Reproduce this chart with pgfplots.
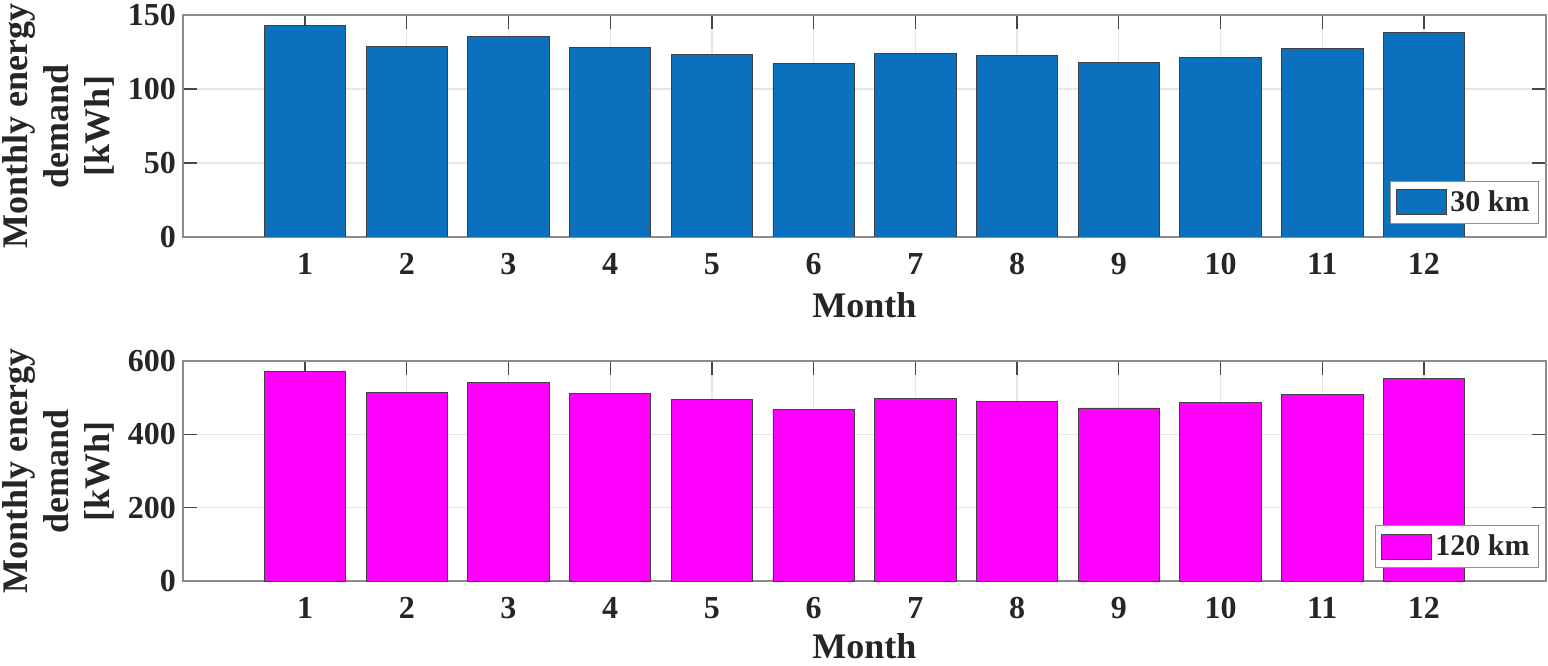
\documentclass[border=0pt]{standalone}
\usepackage{pgfplots}
\pgfplotsset{compat=1.18}
\usepackage{fontspec}
\setmainfont{Liberation Serif}
\definecolor{mblue}{HTML}{0B71BE}
\definecolor{mmag}{HTML}{FF00FF}
\definecolor{txt}{HTML}{262626}
\definecolor{axgray}{HTML}{8C8C8C}
\definecolor{gridc}{HTML}{E6E6E6}
\pgfplotsset{
  mystyle/.style={
    scale only axis, width=681.5pt,
    xmin=-0.2, xmax=13.2, ymin=0,
    xtick={1,2,3,4,5,6,7,8,9,10,11,12},
    tick pos=both, tick align=inside, major tick length=7pt,
    axis line style={axgray, line width=0.8pt},
    tick style={txt!85, line width=0.6pt},
    grid=major, major grid style={gridc, line width=0.6pt},
    ticklabel style={font=\bfseries\fontsize{16}{16}\selectfont, text=txt},
    xticklabel style={yshift=-4.5pt},
    /pgf/number format/assume math mode=true,
    xlabel={Month},
    label style={font=\bfseries\fontsize{18}{20.5}\selectfont, text=txt},
    ylabel style={at={(axis description cs:-0.0917,0.5)}, anchor=center, align=center},
    ylabel={Monthly energy\\demand\\{[kWh]}},
    legend style={anchor=south east, draw=axgray, fill=white, line width=0.6pt,
      font=\bfseries\fontsize{15}{15}\selectfont, text=txt, inner sep=2.5pt,
      nodes={inner sep=2pt}},
  },
  mybar/.style={ybar, bar width=0.8, fill=#1, draw=black!75, line width=0.4pt,
    /pgfplots/legend image code/.code={\draw[##1] (0pt,-6.25pt) rectangle (25pt,6.25pt);}},
}
\begin{document}
\begin{tikzpicture}
\begin{axis}[mystyle, at={(91.5pt,214pt)}, anchor=south west,
  height=111pt, ymax=150, ytick={0,50,100,150},
  xlabel style={at={(axis description cs:0.5,-0.306)}, anchor=center},
  legend style={at={(axis description cs:0.995,0.059)}}]
\addplot[mybar=mblue] coordinates {
(1,142.7) (2,128.7) (3,135.5) (4,128.0) (5,123.6) (6,117.2)
(7,124.3) (8,122.6) (9,118.0) (10,121.5) (11,127.4) (12,138.2)};
\addlegendentry{30 km}
\end{axis}
\begin{axis}[mystyle, at={(91.5pt,42pt)}, anchor=south west,
  height=110pt, ymax=600, ytick={0,200,400,600},
  xlabel style={at={(axis description cs:0.5,-0.295)}, anchor=center},
  legend style={at={(axis description cs:0.995,0.059)}}]
\addplot[mybar=mmag] coordinates {
(1,571) (2,515) (3,542) (4,512) (5,494) (6,469)
(7,497) (8,490) (9,472) (10,486) (11,510) (12,553)};
\addlegendentry{120 km}
\end{axis}
\pgfresetboundingbox
\path[use as bounding box] (0,0) rectangle (774pt,332.5pt);
\end{tikzpicture}
\end{document}
